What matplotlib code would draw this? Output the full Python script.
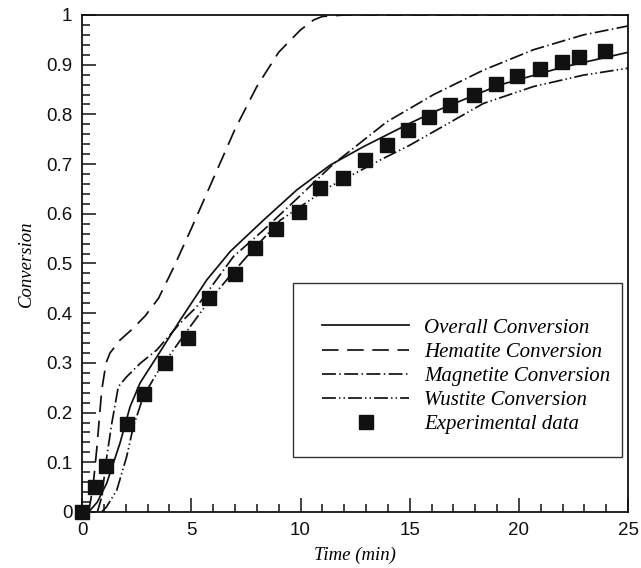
import matplotlib
matplotlib.use('Agg')
import matplotlib.pyplot as plt
from matplotlib.patches import Rectangle
from matplotlib.ticker import MultipleLocator, FuncFormatter

# experimental points (time in min, conversion)
exp_t = [0, 0.6, 1.08, 2.05, 2.85, 3.81, 4.87, 5.83, 7.0, 7.93, 8.88, 9.95,
         10.91, 11.96, 12.93, 13.98, 14.94, 15.9, 16.85, 17.92, 18.96, 19.93,
         20.97, 21.96, 22.77, 23.95]
exp_c = [0, 0.051, 0.093, 0.177, 0.237, 0.299, 0.351, 0.431, 0.478, 0.532,
         0.569, 0.604, 0.651, 0.673, 0.709, 0.739, 0.769, 0.795, 0.818, 0.840,
         0.862, 0.877, 0.891, 0.905, 0.915, 0.927]

# model curves
overall_t = [0.3, 0.7, 1.13, 1.74, 2.2, 2.66, 3.42, 4.49, 5.71, 6.78, 8.3,
             9.83, 11.36, 12.88, 15.0, 16.1, 19.1, 22.0, 25.0]
overall_c = [0, 0.02, 0.058, 0.139, 0.212, 0.26, 0.312, 0.386, 0.467, 0.524,
             0.587, 0.648, 0.698, 0.735, 0.782, 0.805, 0.859, 0.895, 0.925]

hematite_t = [0.3, 0.5, 0.67, 0.9, 1.1, 1.28, 1.74, 2.3, 2.9, 3.5, 4.17, 5.0,
              6.0, 7.0, 8.0, 9.0, 10.0, 10.6, 11.0, 12.0, 25.0]
hematite_c = [0, 0.05, 0.125, 0.245, 0.30, 0.32, 0.346, 0.368, 0.395, 0.43,
              0.49, 0.57, 0.67, 0.77, 0.856, 0.925, 0.97, 0.99, 0.997, 1.0, 1.0]

magnetite_t = [0.7, 0.9, 1.13, 1.36, 1.66, 2.04, 2.66, 3.42, 4.49, 5.25, 6.93,
               8.3, 9.83, 11.5, 13.95, 16.1, 18.37, 20.66, 22.95, 25.0]
magnetite_c = [0, 0.03, 0.111, 0.178, 0.252, 0.272, 0.299, 0.326, 0.38, 0.413,
               0.514, 0.567, 0.63, 0.70, 0.785, 0.84, 0.889, 0.93, 0.96, 0.978]

wustite_t = [0.9, 1.13, 1.59, 2.04, 2.35, 2.8, 3.42, 4.18, 4.95, 5.86, 6.62,
             7.54, 9.07, 11.36, 13.64, 15.0, 18.37, 20.66, 22.95, 25.0]
wustite_c = [0, 0.011, 0.044, 0.111, 0.172, 0.232, 0.279, 0.326, 0.373, 0.427,
             0.467, 0.514, 0.587, 0.655, 0.708, 0.738, 0.822, 0.856, 0.879, 0.893]

labels = ['Overall Conversion', 'Hematite Conversion', 'Magnetite Conversion',
          'Wustite Conversion', 'Experimental data']

ink = '#111111'
serif_it = dict(family='Liberation Serif', style='italic')

fig = plt.figure(figsize=(6.41, 5.68), dpi=100)
ax = fig.add_axes([0.128, 0.0986, 0.852, 0.875])

lw = 1.25
h1, = ax.plot(overall_t, overall_c, color=ink, lw=lw, ls='-')
h2, = ax.plot(hematite_t, hematite_c, color=ink, lw=lw, dashes=(9.5, 5))
h3, = ax.plot(magnetite_t, magnetite_c, color=ink, lw=lw, dashes=(8, 2, 0.8, 2))
h4, = ax.plot(wustite_t, wustite_c, color=ink, lw=lw,
              dashes=(8, 1.8, 0.8, 1.8, 0.8, 1.8))
h5, = ax.plot(exp_t, exp_c, ls='none', marker='s', ms=9.6, color=ink,
              clip_on=False, zorder=5)

ax.set_xlim(0, 25)
ax.set_ylim(0, 1)

ax.xaxis.set_major_locator(MultipleLocator(5))
ax.xaxis.set_minor_locator(MultipleLocator(1))
ax.yaxis.set_major_locator(MultipleLocator(0.1))
ax.yaxis.set_minor_locator(MultipleLocator(0.02))
ax.yaxis.set_major_formatter(FuncFormatter(lambda v, p: '%g' % round(v, 2)))

ax.tick_params(which='both', direction='in', top=False, right=False,
               color=ink, width=1.1)
ax.tick_params(which='major', length=10, pad=7, labelsize=13.5,
               labelcolor=ink)
ax.tick_params(which='minor', length=6)
for lab in ax.get_xticklabels() + ax.get_yticklabels():
    lab.set_family('Liberation Sans')

for s in ax.spines.values():
    s.set_linewidth(1.3)
    s.set_color(ink)

ax.set_xlabel('Time (min)', fontsize=13.5, labelpad=6, **serif_it)
ax.set_ylabel('Conversion', fontsize=13.5, labelpad=8, **serif_it)

# legend box
ax.add_patch(Rectangle((0.3864, 0.1107), 0.6026, 0.3501, transform=ax.transAxes,
                       fill=True, facecolor='white', edgecolor='#333333',
                       lw=1.0, zorder=6))
leg = ax.legend([h1, h2, h3, h4, h5], labels, loc='center',
                bbox_to_anchor=(0.703, 0.273), frameon=False, borderpad=0,
                handlelength=4.2, handletextpad=0.7, labelspacing=0.22,
                prop=dict(family='Liberation Serif', style='italic', size=15))
leg.set_zorder(7)

fig.savefig('out.png', dpi=100)
